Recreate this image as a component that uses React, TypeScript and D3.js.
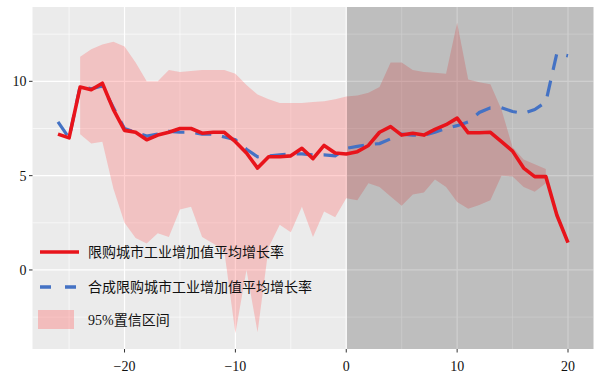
import React from "react";
import * as d3 from "d3";

// Periods relative to policy (x axis)
const periods = [
  -26, -25, -24, -23, -22, -21, -20, -19, -18, -17, -16, -15, -14, -13, -12, -11,
  -10, -9, -8, -7, -6, -5, -4, -3, -2, -1, 0, 1, 2, 3, 4, 5, 6, 7, 8, 9, 10, 11,
  12, 13, 14, 15, 16, 17, 18, 19, 20,
];

// 限购城市工业增加值平均增长率
const actualSeries = [
  7.2, 7.0, 9.7, 9.55, 9.9, 8.5, 7.4, 7.3, 6.9, 7.15, 7.3, 7.5, 7.5, 7.25, 7.3, 7.3,
  6.8, 6.2, 5.4, 6.0, 6.0, 6.05, 6.45, 5.9, 6.6, 6.2, 6.15, 6.27, 6.6, 7.3, 7.6, 7.15,
  7.25, 7.15, 7.45, 7.7, 8.05, 7.27, 7.27, 7.3, 6.8, 6.3, 5.4, 4.95, 4.95, 2.9, 1.45,
];

// 合成限购城市工业增加值平均增长率
const syntheticSeries = [
  7.85, 7.0, 9.75, 9.6, 9.75, 8.6, 7.5, 7.3, 7.1, 7.2, 7.35, 7.3, 7.3, 7.2, 7.2, 7.05,
  6.9, 6.4, 6.0, 6.05, 6.1, 6.15, 6.15, 6.1, 6.1, 6.05, 6.45, 6.55, 6.65, 6.7, 6.95,
  7.2, 7.15, 7.15, 7.3, 7.5, 7.65, 7.85, 8.35, 8.6, 8.6, 8.4, 8.3, 8.5, 8.9, 11.5, 11.35,
];

// 95%置信区间 (periods -24 .. 18)
const bandPeriods = [
  -24, -23, -22, -21, -20, -19, -18, -17, -16, -15, -14, -13, -12, -11, -10, -9, -8,
  -7, -6, -5, -4, -3, -2, -1, 0, 1, 2, 3, 4, 5, 6, 7, 8, 9, 10, 11, 12, 13, 14, 15,
  16, 17, 18,
];
const bandUpper = [
  11.3, 11.7, 11.95, 12.1, 11.85, 11.0, 10.0, 10.0, 10.6, 10.5, 10.55, 10.6, 10.6,
  10.6, 10.4, 9.8, 9.3, 9.05, 8.85, 8.85, 8.85, 8.9, 8.95, 9.05, 9.2, 9.25, 9.4, 9.7,
  11.0, 11.0, 10.6, 10.5, 10.45, 10.4, 13.1, 10.1, 9.95, 9.85, 8.5, 6.5, 5.85, 5.6, 5.35,
];
const bandLower = [
  7.2, 6.7, 6.8, 4.3, 2.5, 1.7, 1.4, 1.95, 1.75, 3.2, 3.35, 1.75, 1.4, 1.0, -3.35, 0.0,
  -3.3, 1.2, 2.4, 2.0, 3.35, 1.75, 3.1, 2.8, 3.8, 3.7, 4.6, 4.4, 3.9, 3.4, 4.0, 4.1,
  4.8, 4.4, 3.6, 3.25, 3.45, 3.7, 5.0, 4.95, 4.4, 4.15, 4.6,
];

const xTicks = [-20, -10, 0, 10, 20];
const xMinor = [-25, -15, -5, 5, 15];
const yTicks = [0, 5, 10];
const yMinor = [-2.5, 2.5, 7.5, 12.5];

const legendLabels = [
  "限购城市工业增加值平均增长率",
  "合成限购城市工业增加值平均增长率",
  "95%置信区间",
];

const W = 604;
const H = 381;
const panel = { left: 32.5, right: 593.5, top: 7, bottom: 349 };

const RED = "#E8141B";
const BLUE = "#4472C4";
const BAND = "#FF6464";
const fontFamily = "'Liberation Serif', 'Noto Sans CJK SC', serif";

export default function App() {
  const x = d3.scaleLinear().domain([-28.3, 22.3]).range([panel.left, panel.right]);
  const y = d3.scaleLinear().domain([-4.19, 13.94]).range([panel.bottom, panel.top]);

  const lineGen = d3
    .line<[number, number]>()
    .x((d) => x(d[0]))
    .y((d) => y(d[1]));
  const area = d3
    .area<number>()
    .x((_, i) => x(bandPeriods[i]))
    .y0((_, i) => y(bandLower[i]))
    .y1((_, i) => y(bandUpper[i]));

  const redPath = lineGen(periods.map((p, i) => [p, actualSeries[i]]));
  const bluePath = lineGen(periods.map((p, i) => [p, syntheticSeries[i]]));
  const bandPath = area(bandUpper);

  const pw = panel.right - panel.left;
  const ph = panel.bottom - panel.top;

  return (
    <svg
      width={W}
      height={H}
      style={{ position: "absolute", left: 0, top: 0, background: "#fff" }}
    >
      <rect x={panel.left} y={panel.top} width={pw} height={ph} fill="#EBEBEB" />
      {/* minor grid */}
      {yMinor.map((v) => (
        <line key={"ym" + v} x1={panel.left} x2={panel.right} y1={y(v)} y2={y(v)} stroke="#fff" strokeWidth={0.6} />
      ))}
      {xMinor.map((v) => (
        <line key={"xm" + v} y1={panel.top} y2={panel.bottom} x1={x(v)} x2={x(v)} stroke="#fff" strokeWidth={0.6} />
      ))}
      {/* major grid */}
      {yTicks.map((v) => (
        <line key={"yM" + v} x1={panel.left} x2={panel.right} y1={y(v)} y2={y(v)} stroke="#fff" strokeWidth={1.2} />
      ))}
      {xTicks.map((v) => (
        <line key={"xM" + v} y1={panel.top} y2={panel.bottom} x1={x(v)} x2={x(v)} stroke="#fff" strokeWidth={1.2} />
      ))}
      {/* confidence band */}
      <path d={bandPath || ""} fill={BAND} fillOpacity={0.3} stroke="none" />
      {/* post-period shading */}
      <rect
        x={x(0) + 0.6}
        y={panel.top}
        width={panel.right - x(0) - 0.6}
        height={ph}
        fill="#000"
        fillOpacity={0.19}
      />
      {/* series lines */}
      <path d={bluePath || ""} fill="none" stroke={BLUE} strokeWidth={3.2} strokeDasharray="16 11" />
      <path d={redPath || ""} fill="none" stroke={RED} strokeWidth={3.6} strokeLinejoin="round" />

      {/* axes ticks and labels */}
      {yTicks.map((v) => (
        <g key={"yt" + v}>
          <line x1={panel.left - 3.5} x2={panel.left} y1={y(v)} y2={y(v)} stroke="#333" strokeWidth={1} />
          <text x={panel.left - 6} y={y(v) + 5} textAnchor="end" fontFamily={fontFamily} fontSize={14} fill="#111">
            {v}
          </text>
        </g>
      ))}
      {xTicks.map((v) => (
        <g key={"xt" + v}>
          <line x1={x(v)} x2={x(v)} y1={panel.bottom} y2={panel.bottom + 3.5} stroke="#333" strokeWidth={1} />
          <text x={x(v)} y={371} textAnchor="middle" fontFamily={fontFamily} fontSize={14} fill="#111">
            {v < 0 ? "\u2212" + Math.abs(v) : String(v)}
          </text>
        </g>
      ))}

      {/* legend */}
      <line x1={40} x2={79} y1={252} y2={252} stroke={RED} strokeWidth={3.5} />
      <line x1={40} x2={79} y1={287} y2={287} stroke={BLUE} strokeWidth={3.5} strokeDasharray="11 14" />
      <rect x={38} y={310} width={36} height={19} fill={BAND} fillOpacity={0.35} />
      <text x={88} y={257} fontFamily={fontFamily} fontSize={14} fill="#111">
        {legendLabels[0]}
      </text>
      <text x={88} y={292} fontFamily={fontFamily} fontSize={14} fill="#111">
        {legendLabels[1]}
      </text>
      <text x={88} y={325} fontFamily={fontFamily} fontSize={14} fill="#111">
        {legendLabels[2]}
      </text>
    </svg>
  );
}
